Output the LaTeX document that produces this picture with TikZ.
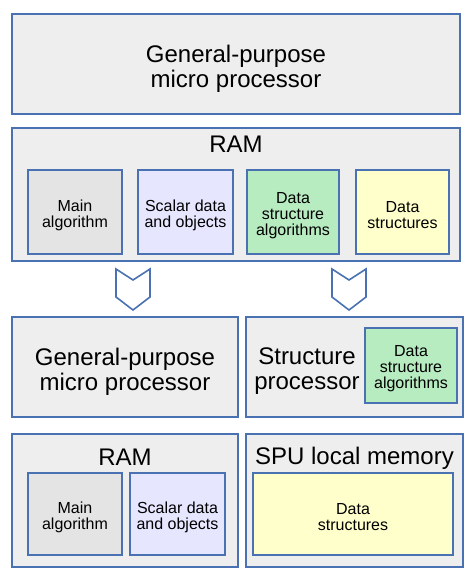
\documentclass[tikz,border=0pt]{standalone}
\usepackage{fontspec}
\setmainfont{Liberation Sans}
\definecolor{edgeblue}{RGB}{74,114,178}
\definecolor{panelgray}{RGB}{238,238,238}
\definecolor{maingray}{RGB}{228,228,228}
\definecolor{scalarblue}{RGB}{230,230,255}
\definecolor{algogreen}{RGB}{183,235,192}
\definecolor{datayellow}{RGB}{255,255,204}
\tikzset{
  box/.style={draw=edgeblue, line width=1.6pt, inner sep=0pt},
  panel/.style={box, fill=panelgray},
  cell/.style={box},
  title/.style={inner sep=0pt, align=center, font=\fontsize{24}{25.5}\selectfont},
  paneltext/.style={title, yshift=-5pt},
  celltext/.style={inner sep=0pt, align=center, font=\fontsize{16}{16}\selectfont, yshift=-3.5pt},
  chevron/.style={draw=edgeblue, line width=1.6pt, line join=miter, fill=white}
}
\begin{document}
\begin{tikzpicture}[x=1pt, y=-1pt]
  \useasboundingbox[fill=white] (0,0) rectangle (474,577);
  \node[panel, minimum width=448pt, minimum height=100pt] (cpu) at (236,64) {};
  \node[paneltext] (cputext) at (cpu) {General-purpose\\micro processor};
  \node[panel, minimum width=448pt, minimum height=133pt] (ram) at (236,194.5) {};
  \node[title] (ramtitle) at (236,144) {RAM};
  \node[cell, fill=maingray, minimum width=94pt, minimum height=84pt] (main) at (75,212) {};
  \node[celltext] (maintext) at (main) {Main\\algorithm};
  \node[cell, fill=scalarblue, minimum width=95pt, minimum height=84pt] (scalar) at (185.5,212) {};
  \node[celltext] (scalartext) at (scalar) {Scalar data\\and objects};
  \node[cell, fill=algogreen, minimum width=92pt, minimum height=84pt] (dsalg) at (293,212) {};
  \node[celltext] (dsalgtext) at (dsalg) {Data\\structure\\algorithms};
  \node[cell, fill=datayellow, minimum width=93pt, minimum height=84pt] (ds) at (402.5,212) {};
  \node[celltext] (dstext) at (ds) {Data\\structures};
  % split arrows
  \draw[chevron] (116,269) -- (133,280) -- (150,269) -- (150,297) -- (133,310) -- (116,297) -- cycle;
  \draw[chevron] (332,269) -- (349,280) -- (366,269) -- (366,297) -- (349,310) -- (332,297) -- cycle;
  % processors
  \node[panel, minimum width=226pt, minimum height=100pt] (gpp) at (125,367) {};
  \node[paneltext] (gpptext) at (gpp) {General-purpose\\micro processor};
  \node[panel, minimum width=217pt, minimum height=100pt] (sp) at (354.5,367) {};
  \node[title] (sptitle) at (307,371) {Structure\\processor};
  \node[cell, fill=algogreen, minimum width=92pt, minimum height=75pt] (spalg) at (411,365.5) {};
  \node[celltext] (spalgtext) at (spalg) {Data\\structure\\algorithms};
  % memories
  \node[panel, minimum width=226pt, minimum height=133pt] (ramb) at (125,500.5) {};
  \node[title] (rambtitle) at (125,457) {RAM};
  \node[cell, fill=maingray, minimum width=94pt, minimum height=82pt] (mainb) at (75,514) {};
  \node[celltext] (mainbtext) at (mainb) {Main\\algorithm};
  \node[cell, fill=scalarblue, minimum width=95pt, minimum height=82pt] (scalarb) at (177.5,514) {};
  \node[celltext] (scalarbtext) at (scalarb) {Scalar data\\and objects};
  \node[panel, minimum width=217pt, minimum height=133pt] (spu) at (354.5,500.5) {};
  \node[title] (sputitle) at (354.5,458) {SPU local memory};
  \node[cell, fill=datayellow, minimum width=200pt, minimum height=82pt] (dsb) at (353,514) {};
  \node[celltext] (dsbtext) at (dsb) {Data\\structures};
\end{tikzpicture}
\end{document}
